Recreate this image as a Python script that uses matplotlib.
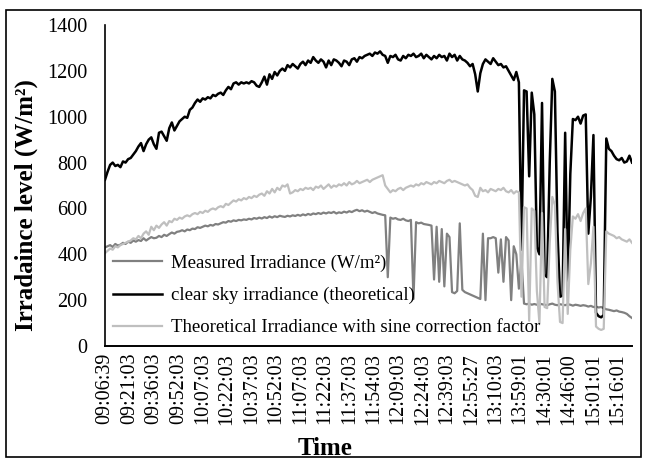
import numpy as np
import matplotlib
matplotlib.use('Agg')
import matplotlib.pyplot as plt
from matplotlib.patches import Rectangle

plt.rcParams['font.family'] = ['Liberation Serif', 'DejaVu Serif']

# time labels shown on the category axis (every ~9.5 samples)
time_labels = ["09:06:39", "09:21:03", "09:36:03", "09:52:03", "10:07:03", "10:22:03",
               "10:37:03", "10:52:03", "11:07:03", "11:22:03", "11:37:03", "11:54:03",
               "12:09:03", "12:24:03", "12:39:03", "12:55:27", "13:10:03", "13:59:01",
               "14:30:01", "14:46:00", "15:01:01", "15:16:01"]

# measured irradiance (W/m2)
measured = [
    430, 435, 440, 432, 445, 438, 442, 450, 445, 455,
    450, 460, 455, 462, 458, 470, 460, 468, 475, 470,
    472, 480, 475, 485, 480, 488, 495, 490, 498, 500,
    505, 500, 508, 505, 512, 510, 518, 515, 520, 525,
    522, 528, 525, 532, 530, 535, 540, 538, 545, 542,
    548, 545, 550, 548, 552, 550, 555, 552, 558, 555,
    560, 556, 562, 558, 565, 560, 566, 562, 568, 565,
    563, 568, 565, 570, 567, 572, 568, 574, 570, 576,
    572, 578, 575, 580, 576, 582, 578, 583, 580, 585,
    578, 583, 580, 586, 582, 588, 584, 590, 594, 588,
    592, 586, 590, 585, 580, 584, 578, 575, 572, 570,
    300, 560, 555, 558, 552, 550, 555, 548, 545, 550,
    205, 540, 535, 538, 532, 530, 528, 525, 290, 520,
    280, 510, 260, 490, 475, 235, 230, 240, 535, 245,
    235, 230, 225, 220, 215, 210, 205, 490, 200, 470,
    470, 475, 470, 320, 465, 280, 475, 460, 200, 435,
    400, 250, 375, 185, 182, 185, 180, 183, 180, 185,
    182, 180, 178, 182, 185, 180, 178, 182, 180, 178,
    182, 180, 176, 180, 178, 175, 178, 176, 172, 175,
    170, 172, 168, 170, 165, 160, 158, 155, 152, 155,
    150, 148, 145, 140, 130, 122,
]

# clear sky irradiance (theoretical)
clear_sky = [
    725, 760, 790, 800, 785, 790, 780, 805, 800, 815,
    820, 835, 850, 870, 885, 850, 880, 900, 910, 880,
    860, 930, 935, 915, 895, 950, 975, 940, 960, 980,
    990, 1000, 995, 1030, 1040, 1060, 1075, 1065, 1080, 1075,
    1085, 1080, 1095, 1090, 1100, 1105, 1095, 1115, 1130, 1120,
    1145, 1150, 1140, 1150, 1145, 1150, 1145, 1155, 1150, 1135,
    1130, 1150, 1175, 1140, 1185, 1165, 1195, 1180, 1200, 1210,
    1200, 1225, 1215, 1230, 1220, 1210, 1230, 1240, 1225, 1245,
    1235, 1260, 1245, 1235, 1250, 1240, 1215, 1245, 1225, 1250,
    1245, 1235, 1220, 1245, 1240, 1225, 1250, 1255, 1240, 1260,
    1255, 1265, 1270, 1275, 1265, 1280, 1275, 1285, 1270, 1265,
    1235, 1265, 1260, 1270, 1250, 1245, 1265, 1255, 1270, 1265,
    1275, 1260, 1265, 1275, 1255, 1270, 1260, 1250, 1265, 1255,
    1270, 1260, 1265, 1245, 1275, 1260, 1270, 1245, 1265, 1250,
    1245, 1235, 1220, 1230, 1185, 1110, 1190, 1230, 1250, 1240,
    1230, 1255, 1240, 1225, 1230, 1215, 1220, 1200, 1180, 1160,
    1195, 1150, 420, 1115, 1110, 740, 1105, 1010, 430, 400,
    1060, 310, 300, 800, 1165, 1110, 500, 215, 220, 930,
    260, 750, 990, 985, 1000, 970, 1005, 1010, 490, 650,
    920, 145, 130, 125, 135, 905, 860, 850, 830, 815,
    810, 820, 800, 805, 830, 800,
]

# theoretical irradiance with sine correction factor
sine_corr = [
    405, 415, 425, 420, 435, 430, 440, 445, 450, 455,
    460, 470, 465, 480, 470, 490, 500, 485, 520, 505,
    525, 515, 530, 540, 525, 545, 540, 555, 550, 560,
    555, 565, 570, 565, 575, 580, 575, 585, 580, 590,
    585, 595, 600, 595, 605, 610, 605, 620, 615, 625,
    635, 630, 640, 635, 645, 640, 650, 645, 655, 650,
    660, 665, 655, 675, 665, 685, 670, 690, 680, 700,
    695, 705, 665, 670, 680, 675, 685, 680, 690, 685,
    690, 680, 695, 690, 700, 685, 695, 705, 690, 700,
    695, 705, 700, 710, 700, 715, 705, 710, 720, 710,
    715, 720, 725, 715, 725, 730, 735, 740, 745, 700,
    685, 670, 680, 675, 685, 690, 680, 690, 695, 700,
    695, 705, 700, 710, 705, 715, 710, 705, 715, 710,
    720, 715, 710, 720, 725, 715, 720, 715, 710, 705,
    700, 705, 690, 680, 655, 650, 690, 675, 680, 670,
    685, 680, 675, 685, 680, 690, 675, 670, 680, 665,
    675, 670, 215, 605, 600, 110, 600, 590, 240, 100,
    580, 170, 165, 450, 650, 615, 280, 105, 100, 510,
    140, 420, 565, 555, 575, 545, 580, 600, 270, 360,
    520, 85, 75, 70, 75, 500, 490, 485, 480, 470,
    475, 465, 460, 455, 465, 450,
]

x = np.arange(len(measured))
label_step = 9.5

fig = plt.figure(figsize=(6.46, 4.61), dpi=100)
ax = fig.add_axes([105/646, 1 - 346/461, (632 - 105)/646, (346 - 25)/461])

ax.plot(x, measured, color='#808080', lw=1.6, label='Measured Irradiance (W/m\u00b2)')
ax.plot(x, clear_sky, color='black', lw=1.8, label='clear sky irradiance (theoretical)')
ax.plot(x, sine_corr, color='#bfbfbf', lw=1.6,
        label='Theoretical Irradiance with sine correction factor')

ax.set_xlim(0, len(x) - 1)
ax.set_ylim(0, 1400)
ax.set_yticks(range(0, 1401, 200))
ax.set_xticks(np.arange(len(time_labels)) * label_step)
ax.set_xticklabels(time_labels, rotation=90)
ax.tick_params(axis='y', length=0, pad=12.5, labelsize=14.5)
ax.tick_params(axis='x', length=0, pad=5, labelsize=14.5)

for side in ['top', 'right']:
    ax.spines[side].set_visible(False)
ax.spines['left'].set_linewidth(1.2)
ax.spines['bottom'].set_linewidth(1.4)

ax.legend(loc='upper left', bbox_to_anchor=(0.015, 0.285), frameon=False,
          borderpad=0, borderaxespad=0, handlelength=2.6, handletextpad=0.5,
          labelspacing=0.8, fontsize=13.5)

fig.text(26/646, 1 - 205/461, 'Irradaince level (W/m\u00b2)', rotation=90,
         ha='center', va='center', fontsize=18, fontweight='bold')
fig.text(325/646, 1 - 455/461, 'Time', ha='center', va='baseline',
         fontsize=18, fontweight='bold')

fig.patches.append(Rectangle((6/646, 1 - 457/461), (641 - 6)/646, (457 - 10)/461,
                             transform=fig.transFigure, fill=False,
                             ec='black', lw=1.2))

fig.savefig('out.png', dpi=100)
